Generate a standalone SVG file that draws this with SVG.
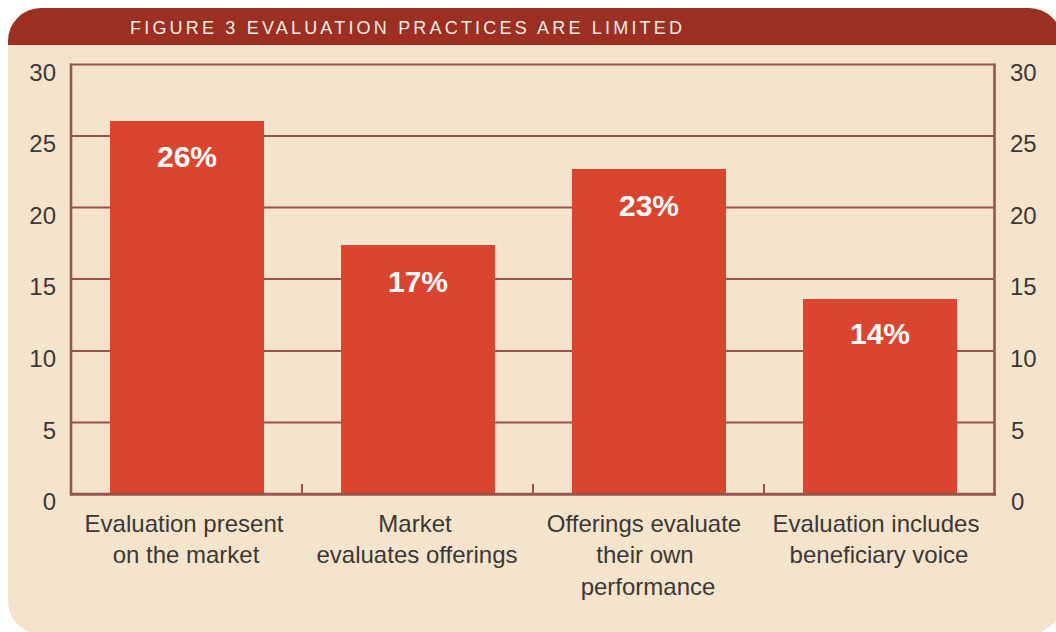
<svg xmlns="http://www.w3.org/2000/svg" width="1056" height="632" viewBox="0 0 1056 632">
<style>
.grid{stroke:#9a534c;stroke-width:2.2;fill:none}
.axis{stroke:#9a534c;stroke-width:2.6;fill:none}
.bar{fill:#db4530}
.val{font-family:"Liberation Sans",Arial,sans-serif;font-weight:bold;font-size:30px;fill:#ffffff;text-anchor:middle}
.tick{font-family:"Liberation Sans",Arial,sans-serif;font-size:24px;fill:#3c3835}
.cat{font-family:"Liberation Sans",Arial,sans-serif;font-size:24px;fill:#3c3835;text-anchor:middle}
.title{font-family:"Liberation Sans",Arial,sans-serif;font-size:18px;fill:#f6ece4}
</style>
<rect width="1056" height="632" fill="#ffffff"/>
<g id="panel">
<path d="M8,41 A33,33 0 0 1 41,8 L1029,8 A33,33 0 0 1 1062,41 L1062,601 A33,33 0 0 1 1029,634 L41,634 A33,33 0 0 1 8,601 Z" fill="#f5e4cc"/>
<path d="M8,45 L8,41 A33,33 0 0 1 41,8 L1029,8 A33,33 0 0 1 1062,41 L1062,45 Z" fill="#9b2f21"/>
<text class="title" x="130" y="33.5" textLength="552" lengthAdjust="spacing">FIGURE 3 EVALUATION PRACTICES ARE LIMITED</text>
</g>
<g id="gridlines">
<line class="grid" x1="71" y1="64.5" x2="994" y2="64.5"/>
<line class="grid" x1="71" y1="136" x2="994" y2="136"/>
<line class="grid" x1="71" y1="207.5" x2="994" y2="207.5"/>
<line class="grid" x1="71" y1="279" x2="994" y2="279"/>
<line class="grid" x1="71" y1="351" x2="994" y2="351"/>
<line class="grid" x1="71" y1="422.5" x2="994" y2="422.5"/>
</g>
<g id="y-labels-left" class="tick" text-anchor="end">
<text x="56" y="80.5">30</text>
<text x="56" y="152">25</text>
<text x="56" y="223.5">20</text>
<text x="56" y="295">15</text>
<text x="56" y="367">10</text>
<text x="56" y="438.5">5</text>
<text x="56" y="510">0</text>
</g>
<g id="y-labels-right" class="tick">
<text x="1010" y="80.5">30</text>
<text x="1010" y="152">25</text>
<text x="1010" y="223.5">20</text>
<text x="1010" y="295">15</text>
<text x="1010" y="367">10</text>
<text x="1011" y="438.5">5</text>
<text x="1011" y="510">0</text>
</g>
<g id="bar1"><rect class="bar" x="110" y="121" width="154" height="373"/><text class="val" x="187" y="167">26%</text></g>
<g id="bar2"><rect class="bar" x="341" y="245" width="154" height="249"/><text class="val" x="418" y="291.5">17%</text></g>
<g id="bar3"><rect class="bar" x="572" y="169" width="154" height="325"/><text class="val" x="649" y="216">23%</text></g>
<g id="bar4"><rect class="bar" x="803" y="299" width="154" height="195"/><text class="val" x="880" y="344">14%</text></g>
<g id="axes">
<line class="axis" x1="71" y1="63.5" x2="71" y2="495.5"/>
<line class="axis" x1="994.5" y1="63.5" x2="994.5" y2="495.5"/>
<line class="axis" x1="70" y1="494.3" x2="996" y2="494.3" style="stroke-width:3"/>
<line class="axis" x1="302" y1="484" x2="302" y2="494" style="stroke-width:2"/>
<line class="axis" x1="533" y1="484" x2="533" y2="494" style="stroke-width:2"/>
<line class="axis" x1="764" y1="484" x2="764" y2="494" style="stroke-width:2"/>
</g>
<g id="cat1" class="cat"><text x="184" y="531.5">Evaluation present</text><text x="186" y="563">on the market</text></g>
<g id="cat2" class="cat"><text x="415" y="531.5">Market</text><text x="417" y="563">evaluates offerings</text></g>
<g id="cat3" class="cat"><text x="644" y="531.5">Offerings evaluate</text><text x="645" y="563">their own</text><text x="648" y="594.5">performance</text></g>
<g id="cat4" class="cat"><text x="876" y="531.5">Evaluation includes</text><text x="879" y="563">beneficiary voice</text></g>
</svg>
